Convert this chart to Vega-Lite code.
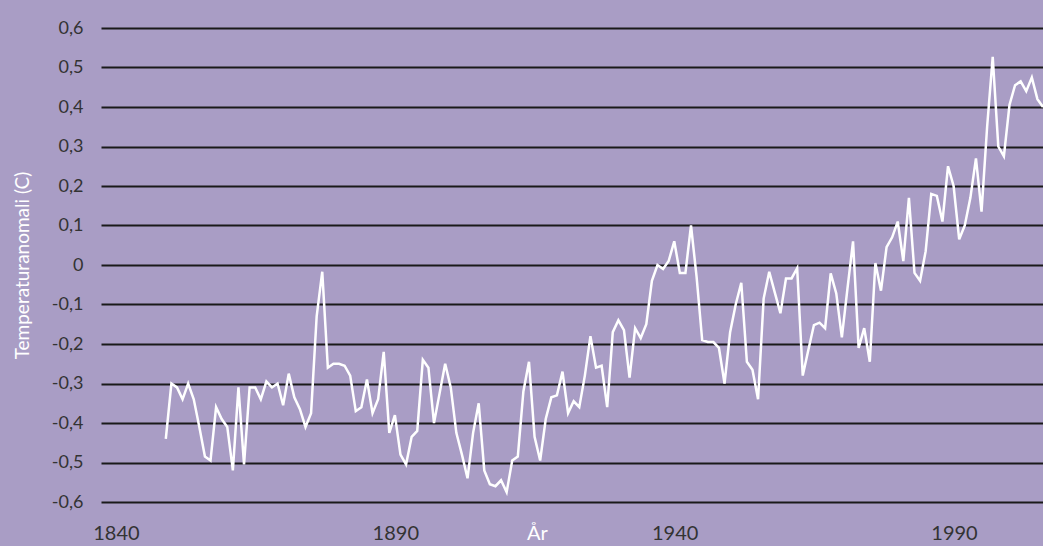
{
  "$schema": "https://vega.github.io/schema/vega-lite/v6.json",
  "width": 942,
  "height": 474,
  "autosize": {"type": "none"},
  "padding": {"left": 101, "top": 28, "right": 0, "bottom": 44},
  "background": "#A99DC5",
  "config": {
    "view": {"stroke": null},
    "font": "Lato"
  },
  "data": {
    "values": [
      {"year": 1850, "anomaly": -0.44}, {"year": 1851, "anomaly": -0.30}, {"year": 1852, "anomaly": -0.31}, {"year": 1853, "anomaly": -0.34},
      {"year": 1854, "anomaly": -0.30}, {"year": 1855, "anomaly": -0.34}, {"year": 1856, "anomaly": -0.41}, {"year": 1857, "anomaly": -0.485},
      {"year": 1858, "anomaly": -0.495}, {"year": 1859, "anomaly": -0.36}, {"year": 1860, "anomaly": -0.39}, {"year": 1861, "anomaly": -0.41},
      {"year": 1862, "anomaly": -0.52}, {"year": 1863, "anomaly": -0.31}, {"year": 1864, "anomaly": -0.505}, {"year": 1865, "anomaly": -0.31},
      {"year": 1866, "anomaly": -0.31}, {"year": 1867, "anomaly": -0.34}, {"year": 1868, "anomaly": -0.295}, {"year": 1869, "anomaly": -0.31},
      {"year": 1870, "anomaly": -0.30}, {"year": 1871, "anomaly": -0.355}, {"year": 1872, "anomaly": -0.275}, {"year": 1873, "anomaly": -0.335},
      {"year": 1874, "anomaly": -0.365}, {"year": 1875, "anomaly": -0.41}, {"year": 1876, "anomaly": -0.375}, {"year": 1877, "anomaly": -0.13},
      {"year": 1878, "anomaly": -0.017}, {"year": 1879, "anomaly": -0.26}, {"year": 1880, "anomaly": -0.25}, {"year": 1881, "anomaly": -0.25},
      {"year": 1882, "anomaly": -0.255}, {"year": 1883, "anomaly": -0.28}, {"year": 1884, "anomaly": -0.37}, {"year": 1885, "anomaly": -0.36},
      {"year": 1886, "anomaly": -0.29}, {"year": 1887, "anomaly": -0.375}, {"year": 1888, "anomaly": -0.34}, {"year": 1889, "anomaly": -0.22},
      {"year": 1890, "anomaly": -0.425}, {"year": 1891, "anomaly": -0.38}, {"year": 1892, "anomaly": -0.48}, {"year": 1893, "anomaly": -0.505},
      {"year": 1894, "anomaly": -0.435}, {"year": 1895, "anomaly": -0.42}, {"year": 1896, "anomaly": -0.24}, {"year": 1897, "anomaly": -0.26},
      {"year": 1898, "anomaly": -0.40}, {"year": 1899, "anomaly": -0.325}, {"year": 1900, "anomaly": -0.25}, {"year": 1901, "anomaly": -0.31},
      {"year": 1902, "anomaly": -0.425}, {"year": 1903, "anomaly": -0.48}, {"year": 1904, "anomaly": -0.54}, {"year": 1905, "anomaly": -0.425},
      {"year": 1906, "anomaly": -0.35}, {"year": 1907, "anomaly": -0.52}, {"year": 1908, "anomaly": -0.555}, {"year": 1909, "anomaly": -0.56},
      {"year": 1910, "anomaly": -0.545}, {"year": 1911, "anomaly": -0.575}, {"year": 1912, "anomaly": -0.495}, {"year": 1913, "anomaly": -0.485},
      {"year": 1914, "anomaly": -0.32}, {"year": 1915, "anomaly": -0.245}, {"year": 1916, "anomaly": -0.435}, {"year": 1917, "anomaly": -0.495},
      {"year": 1918, "anomaly": -0.39}, {"year": 1919, "anomaly": -0.335}, {"year": 1920, "anomaly": -0.33}, {"year": 1921, "anomaly": -0.27},
      {"year": 1922, "anomaly": -0.375}, {"year": 1923, "anomaly": -0.345}, {"year": 1924, "anomaly": -0.36}, {"year": 1925, "anomaly": -0.28},
      {"year": 1926, "anomaly": -0.18}, {"year": 1927, "anomaly": -0.26}, {"year": 1928, "anomaly": -0.255}, {"year": 1929, "anomaly": -0.36},
      {"year": 1930, "anomaly": -0.17}, {"year": 1931, "anomaly": -0.14}, {"year": 1932, "anomaly": -0.165}, {"year": 1933, "anomaly": -0.285},
      {"year": 1934, "anomaly": -0.16}, {"year": 1935, "anomaly": -0.185}, {"year": 1936, "anomaly": -0.15}, {"year": 1937, "anomaly": -0.04},
      {"year": 1938, "anomaly": 0.0}, {"year": 1939, "anomaly": -0.01}, {"year": 1940, "anomaly": 0.01}, {"year": 1941, "anomaly": 0.06},
      {"year": 1942, "anomaly": -0.02}, {"year": 1943, "anomaly": -0.02}, {"year": 1944, "anomaly": 0.10}, {"year": 1945, "anomaly": -0.03},
      {"year": 1946, "anomaly": -0.19}, {"year": 1947, "anomaly": -0.195}, {"year": 1948, "anomaly": -0.195}, {"year": 1949, "anomaly": -0.21},
      {"year": 1950, "anomaly": -0.30}, {"year": 1951, "anomaly": -0.17}, {"year": 1952, "anomaly": -0.10}, {"year": 1953, "anomaly": -0.045},
      {"year": 1954, "anomaly": -0.245}, {"year": 1955, "anomaly": -0.265}, {"year": 1956, "anomaly": -0.34}, {"year": 1957, "anomaly": -0.085},
      {"year": 1958, "anomaly": -0.017}, {"year": 1959, "anomaly": -0.07}, {"year": 1960, "anomaly": -0.122}, {"year": 1961, "anomaly": -0.034},
      {"year": 1962, "anomaly": -0.034}, {"year": 1963, "anomaly": -0.008}, {"year": 1964, "anomaly": -0.28}, {"year": 1965, "anomaly": -0.215},
      {"year": 1966, "anomaly": -0.152}, {"year": 1967, "anomaly": -0.146}, {"year": 1968, "anomaly": -0.16}, {"year": 1969, "anomaly": -0.021},
      {"year": 1970, "anomaly": -0.072}, {"year": 1971, "anomaly": -0.183}, {"year": 1972, "anomaly": -0.06}, {"year": 1973, "anomaly": 0.06},
      {"year": 1974, "anomaly": -0.21}, {"year": 1975, "anomaly": -0.16}, {"year": 1976, "anomaly": -0.245}, {"year": 1977, "anomaly": 0.005},
      {"year": 1978, "anomaly": -0.065}, {"year": 1979, "anomaly": 0.045}, {"year": 1980, "anomaly": 0.07}, {"year": 1981, "anomaly": 0.11},
      {"year": 1982, "anomaly": 0.01}, {"year": 1983, "anomaly": 0.17}, {"year": 1984, "anomaly": -0.02}, {"year": 1985, "anomaly": -0.04},
      {"year": 1986, "anomaly": 0.035}, {"year": 1987, "anomaly": 0.18}, {"year": 1988, "anomaly": 0.175}, {"year": 1989, "anomaly": 0.11},
      {"year": 1990, "anomaly": 0.25}, {"year": 1991, "anomaly": 0.20}, {"year": 1992, "anomaly": 0.065}, {"year": 1993, "anomaly": 0.10},
      {"year": 1994, "anomaly": 0.17}, {"year": 1995, "anomaly": 0.27}, {"year": 1996, "anomaly": 0.135}, {"year": 1997, "anomaly": 0.35},
      {"year": 1998, "anomaly": 0.527}, {"year": 1999, "anomaly": 0.30}, {"year": 2000, "anomaly": 0.275}, {"year": 2001, "anomaly": 0.405},
      {"year": 2002, "anomaly": 0.455}, {"year": 2003, "anomaly": 0.465}, {"year": 2004, "anomaly": 0.44}, {"year": 2005, "anomaly": 0.475},
      {"year": 2006, "anomaly": 0.42}, {"year": 2007, "anomaly": 0.40}
    ]
  },
  "mark": {"type": "line", "color": "#FFFFFF", "strokeWidth": 2.5, "clip": true},
  "encoding": {
    "x": {
      "field": "year",
      "type": "quantitative",
      "scale": {"domain": [1838.4, 2007], "nice": false, "zero": false},
      "axis": {
        "values": [1840, 1890, 1940, 1990],
        "format": "d",
        "grid": false,
        "domain": false,
        "ticks": false,
        "labelColor": "#333333",
        "labelFontSize": 20,
        "labelBaseline": "middle",
        "labelPadding": 31,
        "labelOffset": 6,
        "labelFont": "Lato",
        "title": "År",
        "titleColor": "#FFFFFF",
        "titleFontSize": 20,
        "titleFontWeight": "normal",
        "titleFont": "Lato",
        "titleX": 436,
        "titleY": 31,
        "titleBaseline": "middle",
        "titleAlign": "center"
      }
    },
    "y": {
      "field": "anomaly",
      "type": "quantitative",
      "scale": {"domain": [-0.6, 0.6], "nice": false, "zero": false},
      "axis": {
        "values": [-0.6, -0.5, -0.4, -0.3, -0.2, -0.1, 0, 0.1, 0.2, 0.3, 0.4, 0.5, 0.6],
        "labelExpr": "datum.value == 0 ? '0' : (datum.value < 0 ? '-' : '') + '0,' + round(abs(datum.value) * 10)",
        "grid": true,
        "gridColor": "#1A1A1A",
        "gridWidth": 1.8,
        "domain": false,
        "ticks": false,
        "labelColor": "#333333",
        "labelFontSize": 18,
        "labelFont": "Lato",
        "labelPadding": 18,
        "title": "Temperaturanomali (C)",
        "titleColor": "#FFFFFF",
        "titleFontSize": 19,
        "titleFontWeight": "normal",
        "titleFont": "Lato",
        "titleX": -79,
        "titleY": 237,
        "titleAngle": -90,
        "titleAlign": "center",
        "titleBaseline": "middle"
      }
    }
  }
}
